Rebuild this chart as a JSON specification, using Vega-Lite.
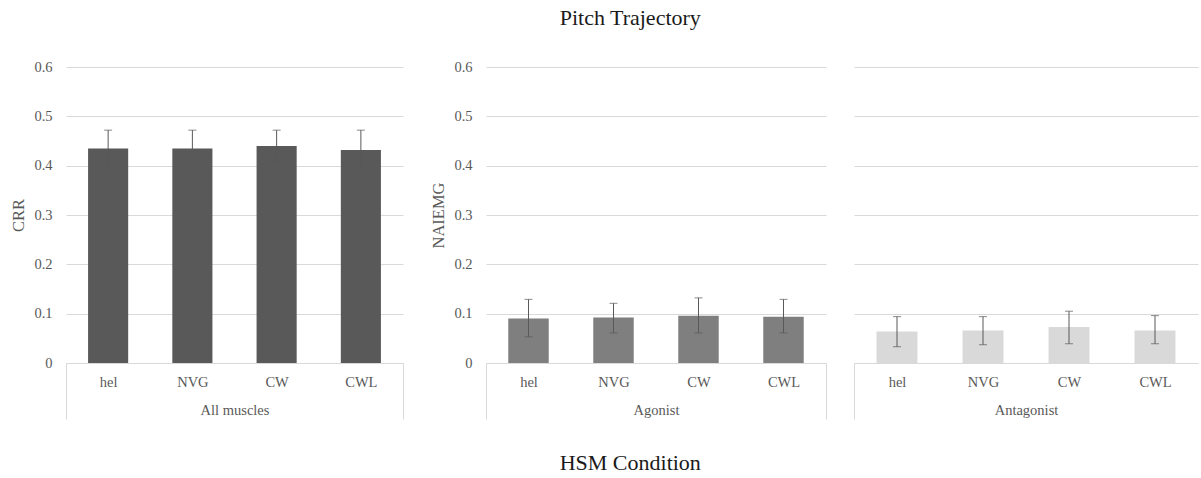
{
  "$schema": "https://vega.github.io/schema/vega-lite/v6.json",
  "padding": {"left": 10, "top": 7, "right": 0, "bottom": 3},
  "title": {"text": "Pitch Trajectory", "fontSize": 22, "fontWeight": "normal", "color": "#1a1a1a", "offset": 29, "dx": 26, "anchor": "middle"},
  "data": {"values": [
    {"group": "All muscles", "cond": "hel", "mean": 0.435, "lo": 0.398, "hi": 0.472},
    {"group": "All muscles", "cond": "NVG", "mean": 0.435, "lo": 0.398, "hi": 0.472},
    {"group": "All muscles", "cond": "CW", "mean": 0.440, "lo": 0.408, "hi": 0.472},
    {"group": "All muscles", "cond": "CWL", "mean": 0.432, "lo": 0.392, "hi": 0.472},
    {"group": "Agonist", "cond": "hel", "mean": 0.090, "lo": 0.053, "hi": 0.129},
    {"group": "Agonist", "cond": "NVG", "mean": 0.092, "lo": 0.061, "hi": 0.121},
    {"group": "Agonist", "cond": "CW", "mean": 0.096, "lo": 0.061, "hi": 0.132},
    {"group": "Agonist", "cond": "CWL", "mean": 0.094, "lo": 0.061, "hi": 0.129},
    {"group": "Antagonist", "cond": "hel", "mean": 0.064, "lo": 0.033, "hi": 0.094},
    {"group": "Antagonist", "cond": "NVG", "mean": 0.066, "lo": 0.037, "hi": 0.094},
    {"group": "Antagonist", "cond": "CW", "mean": 0.073, "lo": 0.039, "hi": 0.105},
    {"group": "Antagonist", "cond": "CWL", "mean": 0.066, "lo": 0.039, "hi": 0.096}
  ]},
  "config": {
    "font": "Liberation Serif",
    "view": {"stroke": null},
    "axis": {"labelColor": "#595959", "titleColor": "#595959", "titleFontWeight": "normal", "labelFont": "Liberation Serif", "titleFont": "Liberation Serif"}
  },
  "vconcat": [
    {
      "title": {"text": "HSM Condition", "orient": "bottom", "fontSize": 22, "fontWeight": "normal", "color": "#1a1a1a", "offset": 33, "dx": 26, "anchor": "middle"},
      "spacing": 26,
      "hconcat": [
        {
          "width": 337, "height": 296,
          "transform": [{"filter": "datum.group === 'All muscles'"}],
          "encoding": {"x": {"field": "cond", "type": "nominal", "sort": ["hel", "NVG", "CW", "CWL"], "scale": {"paddingInner": 0, "paddingOuter": 0},
            "axis": {"title": "All muscles", "labelAngle": 0, "labelFontSize": 14.5, "titleFontSize": 14.5, "domainColor": "#d9d9d9", "tickBand": "extent", "tickSize": 56, "tickColor": {"condition": {"test": "datum.index < 0 || datum.index === 1", "value": "#d9d9d9"}, "value": "transparent"}, "labelPadding": -44, "titleY": 47, "titleBaseline": "middle"}}},
          "layer": [
            {"mark": {"type": "bar", "color": "#595959", "width": {"band": 0.476}},
             "encoding": {"y": {"field": "mean", "type": "quantitative", "scale": {"domain": [0, 0.6], "nice": false},
               "axis": {"title": "CRR", "values": [0, 0.1, 0.2, 0.3, 0.4, 0.5, 0.6], "format": "~g", "grid": true, "gridColor": "#d9d9d9", "domain": false, "ticks": false, "labelPadding": 14, "labelFontSize": 14.5, "titleFontSize": 16.5, "minExtent": 30, "maxExtent": 30, "titlePadding": 10}}}},
            {"mark": {"type": "rule", "color": "#595959"},
             "encoding": {"y": {"field": "lo", "type": "quantitative"}, "y2": {"field": "hi"}}},
            {"mark": {"type": "tick", "color": "#595959", "size": 8, "thickness": 1},
             "encoding": {"y": {"field": "hi", "type": "quantitative"}}},
            {"mark": {"type": "tick", "color": "#595959", "size": 8, "thickness": 1},
             "encoding": {"y": {"field": "lo", "type": "quantitative"}}}
          ]
        },
        {
          "width": 340, "height": 296,
          "transform": [{"filter": "datum.group === 'Agonist'"}],
          "encoding": {"x": {"field": "cond", "type": "nominal", "sort": ["hel", "NVG", "CW", "CWL"], "scale": {"paddingInner": 0, "paddingOuter": 0},
            "axis": {"title": "Agonist", "labelAngle": 0, "labelFontSize": 14.5, "titleFontSize": 14.5, "domainColor": "#d9d9d9", "tickBand": "extent", "tickSize": 56, "tickColor": {"condition": {"test": "datum.index < 0 || datum.index === 1", "value": "#d9d9d9"}, "value": "transparent"}, "labelPadding": -44, "titleY": 47, "titleBaseline": "middle"}}},
          "layer": [
            {"mark": {"type": "bar", "color": "#7f7f7f", "width": {"band": 0.476}},
             "encoding": {"y": {"field": "mean", "type": "quantitative", "scale": {"domain": [0, 0.6], "nice": false},
               "axis": {"title": "NAIEMG", "values": [0, 0.1, 0.2, 0.3, 0.4, 0.5, 0.6], "format": "~g", "grid": true, "gridColor": "#d9d9d9", "domain": false, "ticks": false, "labelPadding": 14, "labelFontSize": 14.5, "titleFontSize": 16.5, "minExtent": 30, "maxExtent": 30, "titlePadding": 10}}}},
            {"mark": {"type": "rule", "color": "#595959"},
             "encoding": {"y": {"field": "lo", "type": "quantitative"}, "y2": {"field": "hi"}}},
            {"mark": {"type": "tick", "color": "#595959", "size": 8, "thickness": 1},
             "encoding": {"y": {"field": "hi", "type": "quantitative"}}},
            {"mark": {"type": "tick", "color": "#595959", "size": 8, "thickness": 1},
             "encoding": {"y": {"field": "lo", "type": "quantitative"}}}
          ]
        },
        {
          "width": 344, "height": 296,
          "transform": [{"filter": "datum.group === 'Antagonist'"}],
          "encoding": {"x": {"field": "cond", "type": "nominal", "sort": ["hel", "NVG", "CW", "CWL"], "scale": {"paddingInner": 0, "paddingOuter": 0},
            "axis": {"title": "Antagonist", "labelAngle": 0, "labelFontSize": 14.5, "titleFontSize": 14.5, "domainColor": "#d9d9d9", "tickBand": "extent", "tickSize": 56, "tickColor": {"condition": {"test": "datum.index < 0", "value": "#d9d9d9"}, "value": "transparent"}, "labelPadding": -44, "titleY": 47, "titleBaseline": "middle"}}},
          "layer": [
            {"mark": {"type": "bar", "color": "#d9d9d9", "width": {"band": 0.476}},
             "encoding": {"y": {"field": "mean", "type": "quantitative", "scale": {"domain": [0, 0.6], "nice": false},
               "axis": {"title": null, "values": [0, 0.1, 0.2, 0.3, 0.4, 0.5, 0.6], "grid": true, "gridColor": "#d9d9d9", "domain": false, "ticks": false, "labels": false, "minExtent": 0, "maxExtent": 0}}}},
            {"mark": {"type": "rule", "color": "#595959"},
             "encoding": {"y": {"field": "lo", "type": "quantitative"}, "y2": {"field": "hi"}}},
            {"mark": {"type": "tick", "color": "#595959", "size": 8, "thickness": 1},
             "encoding": {"y": {"field": "hi", "type": "quantitative"}}},
            {"mark": {"type": "tick", "color": "#595959", "size": 8, "thickness": 1},
             "encoding": {"y": {"field": "lo", "type": "quantitative"}}}
          ]
        }
      ]
    }
  ]
}
